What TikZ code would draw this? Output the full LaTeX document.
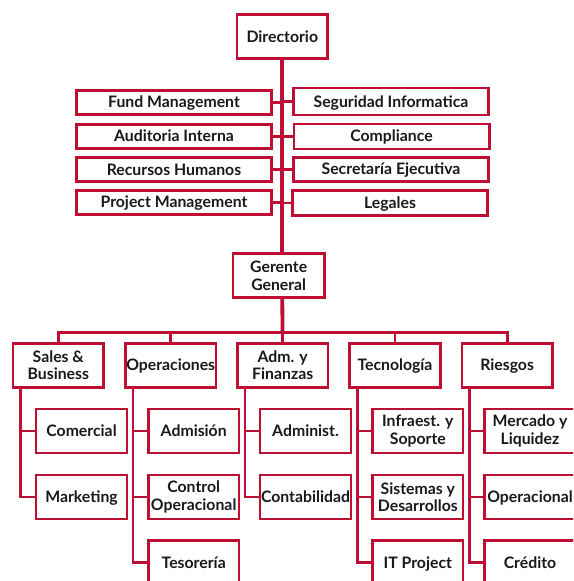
\documentclass[tikz,border=0pt]{standalone}
\usepackage{fontspec}
\setmainfont{Lato}
\usetikzlibrary{backgrounds}
\definecolor{crim}{RGB}{190,14,52}
\definecolor{ink}{RGB}{25,25,25}
\begin{document}
\begin{tikzpicture}[x=1pt,y=-1pt,
  box/.style={draw=crim,line width=2.6pt,fill=white,text=ink,font=\bfseries\fontsize{15.8}{17.6}\selectfont,
    align=center,inner sep=0pt,minimum width=#1},
  box/.default=90.7pt,
  one/.style={text height=11.3pt,text depth=0pt},
  tall/.style={minimum height=44pt},
  flat/.style={minimum height=24pt},
  main/.style={draw=crim,line width=3.8pt},
  branch/.style={draw=crim,line width=2.6pt}]
\useasboundingbox (0,0) rectangle (573,581);
\clip (0,0) rectangle (573,581);
% top
\node[box,tall,one] (dir) at (282.3,36.7) {Directorio};
\node[box=195.4pt,flat,one] (fund) at (174,102.2) {Fund Management};
\node[box=195.4pt,flat,one] (aud) at (174,136.3) {Auditoria Interna};
\node[box=195.4pt,flat,one] (rrhh) at (174,169.7) {Recursos Humanos};
\node[box=195.4pt,flat,one] (pm) at (174,202.2) {Project Management};
\node[box=195.4pt,minimum height=27pt,one] (seg) at (391,101.5) {Seguridad Informatica};
\node[box=195.4pt,minimum height=25pt,one] (comp) at (391.5,136.3) {Compliance};
\node[box=195.4pt,flat,one] (sec) at (391,169.3) {Secretaría Ejecutiva};
\node[box=195.4pt,minimum height=25pt,one] (leg) at (390,202.8) {Legales};
\node[box=91.4pt,tall] (ger) at (278.7,275.5) {Gerente\\General};
\coordinate (bus) at (282.5,332.7);
% level 2
\node[box,tall] (sales) at (58.3,365.3) {Sales \&\\Business};
\node[box,tall,one] (op) at (170.7,365.3) {Operaciones};
\node[box,tall] (adm) at (282.7,365.3) {Adm. y\\Finanzas};
\node[box,tall,one] (tec) at (395,365.3) {Tecnología};
\node[box,tall,one] (ries) at (507.2,365.3) {Riesgos};
% children
\node[box,tall,one] (com) at (81.5,431) {Comercial};
\node[box,tall,one] (mkt) at (81.5,497) {Marketing};
\node[box,tall,one] (admi) at (193.7,431) {Admisión};
\node[box,tall] (ctrl) at (193.7,497) {Control\\Operacional};
\node[box,tall,one] (tes) at (193.7,562.7) {Tesorería};
\node[box,tall,one] (admn) at (305.5,431) {Administ.};
\node[box,tall,one] (cont) at (305.5,497) {Contabilidad};
\node[box,tall] (inf) at (417.8,431) {Infraest. y\\Soporte};
\node[box,tall] (sis) at (417.8,497) {Sistemas y\\Desarrollos};
\node[box,tall,one] (itp) at (417.8,562.7) {IT Project};
\node[box,tall] (merc) at (530,431) {Mercado y\\Liquidez};
\node[box,tall,one] (opr) at (530,497) {Operacional};
\node[box,tall,one] (cred) at (530,562.7) {Crédito};
% connectors
\begin{scope}[on background layer]
\draw[main] (dir.south) -- (dir.south |- ger.north);
\draw[main] (dir.south |- ger.south) -- (bus);
\foreach \n in {fund,aud,rrhh,pm}{\draw[branch] (\n.east) -- (\n.east -| dir.south);}
\foreach \n in {seg,comp,sec,leg}{\draw[branch] (\n.west) -- (\n.west -| dir.south);}
\draw[branch] (sales.north) |- (bus) -| (ries.north);
\foreach \n in {op,adm,tec}{\draw[branch] (\n.north) -- (\n.north |- bus);}
\foreach \p/\c in {sales/com,sales/mkt,op/admi,op/ctrl,op/tes,adm/admn,adm/cont,tec/inf,tec/sis,tec/itp,ries/merc,ries/opr,ries/cred}
  {\draw[branch] (\c.west) -| ([xshift=9pt]\p.south west);}
\end{scope}
\end{tikzpicture}
\end{document}
